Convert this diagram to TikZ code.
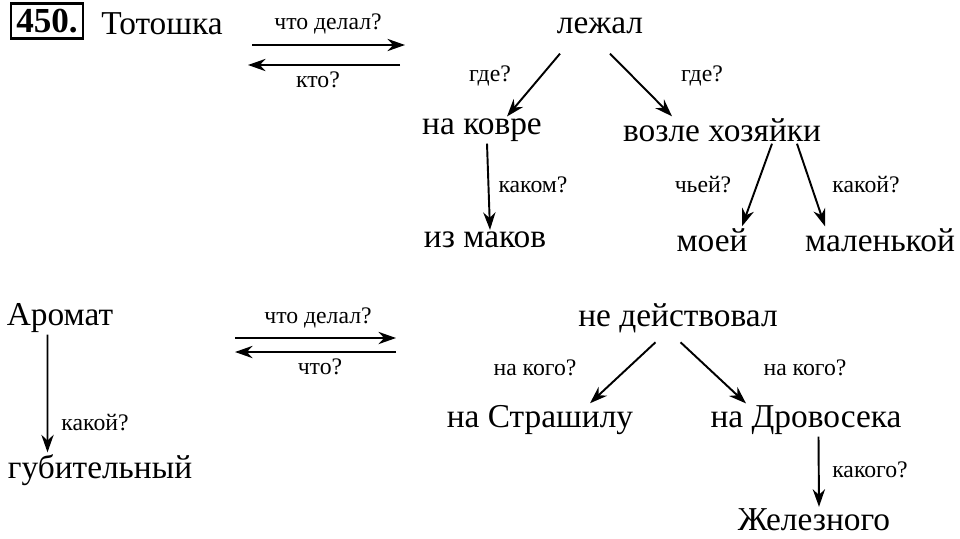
\documentclass[tikz,border=0pt]{standalone}
\usepackage{fontspec}
\setmainfont{Liberation Serif}
\usetikzlibrary{arrows.meta}
\begin{document}
\begin{tikzpicture}[x=0.02cm,y=-0.02cm,%
% common options for words:
word/.style = {inner sep=1pt, font=\fontsize{19}{21}\selectfont},
% common options for questions:
ask/.style = {inner sep=1pt, font=\fontsize{13.5}{15}\selectfont},
arr/.style = {-{Stealth[length=10pt,width=7pt]}, line width=1.1pt}]
\useasboundingbox (0,0) rectangle (960,538);
\node[draw, line width=1.6pt, inner sep=3pt, font=\fontsize{20}{22}\selectfont\bfseries] (num) at (47,21) {450.};
\node[word] (toto) at (162,24) {Тотошка};
\node[word] (lezh) at (600,26) {лежал};
\node[word] (kovr) at (482,130) {на ковре};
\node[word] (vozl) at (722,130) {возле хозяйки};
\node[word] (maki) at (485,240) {из маков};
\node[word] (moei) at (712,240) {моей};
\node[word] (malk) at (880,240) {маленькой};
\node[word] (arom) at (60,318) {Аромат};
\node[word] (gubi) at (100,470) {губительный};
\node[word] (deis) at (678,318) {не действовал};
\node[word] (stra) at (540,420) {на Страшилу};
\node[word] (drov) at (806,420) {на Дровосека};
\node[word] (zhel) at (814,520) {Железного};
% the two-way arrows
\coordinate (t1) at (252,45); \coordinate (t2) at (405,45);
\coordinate (t3) at (400,65); \coordinate (t4) at (248,65);
\coordinate (a1) at (235,338); \coordinate (a2) at (396,338);
\coordinate (a3) at (396,352); \coordinate (a4) at (235,352);
\draw[arr] (t1) -- (t2);
\draw[arr] (t3) -- (t4);
\draw[arr] (a1) -- (a2);
\draw[arr] (a3) -- (a4);
\node[ask] (q1) at (328,24) {что делал?};
\node[ask] (q2) at (318,80) {кто?};
\node[ask] (q3) at (318,318) {что делал?};
\node[ask] (q4) at (320,367) {что?};
% the tree arrows
\draw[arr] ([xshift=-0.8cm,yshift=-0.35cm]lezh.south) -- ([xshift=0.5cm]kovr.north);
\draw[arr] ([xshift=0.2cm,yshift=-0.35cm]lezh.south) -- ([xshift=-1.0cm]vozl.north);
\draw[arr] ([xshift=0.1cm]kovr.south) -- ([xshift=0.1cm]maki.north);
\draw[arr] ([xshift=1.0cm]vozl.south) -- ([xshift=0.6cm]moei.north);
\draw[arr] ([xshift=1.5cm]vozl.south) -- ([xshift=-1.1cm]malk.north);
\draw[arr] ([xshift=-0.25cm]arom.south) -- ([xshift=-1.05cm]gubi.north);
\draw[arr] ([xshift=-0.45cm,yshift=-0.15cm]deis.south) -- ([xshift=1.0cm]stra.north);
\draw[arr] ([xshift=0.05cm,yshift=-0.15cm]deis.south) -- ([xshift=-1.2cm]drov.north);
\draw[arr] ([xshift=0.25cm]drov.south) -- ([xshift=0.1cm]zhel.north);
\node[ask] (q5) at (490,76) {где?};
\node[ask] (q6) at (702,76) {где?};
\node[ask] (q7) at (533,185) {каком?};
\node[ask] (q8) at (703,185) {чьей?};
\node[ask] (q9) at (866,185) {какой?};
\node[ask] (q10) at (95,423) {какой?};
\node[ask] (q11) at (535,368) {на кого?};
\node[ask] (q12) at (805,368) {на кого?};
\node[ask] (q13) at (870,470) {какого?};
\end{tikzpicture}
\end{document}
